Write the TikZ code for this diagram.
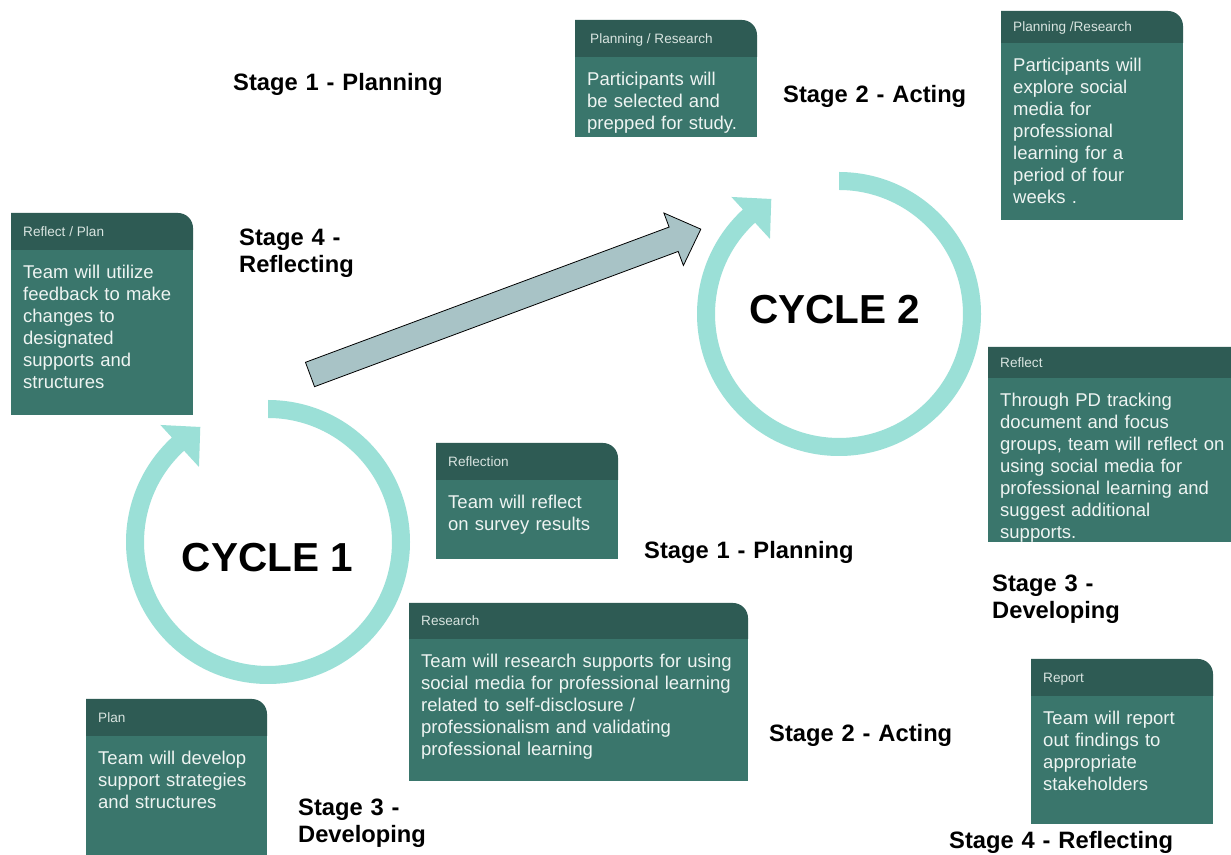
\documentclass[tikz,border=0pt]{standalone}
\usepackage{fontspec}
\setmainfont{Liberation Sans}
\usetikzlibrary{calc}

\definecolor{cardhead}{HTML}{2E5B54}
\definecolor{cardbody}{HTML}{3A766C}
\definecolor{cardtext}{HTML}{EEF4F2}
\definecolor{headtext}{HTML}{D8E4E0}
\definecolor{ringcol}{HTML}{9BE0D7}
\definecolor{bigarrow}{HTML}{A8C3C6}

\tikzset{
  headlabel/.style={anchor=base west, inner sep=0pt, text=headtext,
    font=\fontsize{13.6}{15}\selectfont},
  % text width makes the node top-aligned, so its base is the first line
  bodylabel/.style={anchor=base west, inner sep=0pt, text=cardtext, align=left,
    text width=330pt, font=\fontsize{18.5}{22}\selectfont},
  stagelabel/.style={anchor=base west, inner sep=0pt, align=left,
    text width=260pt, font=\fontsize{23.7}{27}\selectfont\bfseries},
  cyclelabel/.style={anchor=base, inner sep=0pt,
    font=\fontsize{40.5}{44}\selectfont\bfseries},
  ring/.style={fill=ringcol},
}

% card: name, left, top, right, bottom, header bottom, header text, body text
\newcommand\cardbox[8]{%
  \pgfmathsetmacro\cbx{#2+12}%
  \pgfmathsetmacro\cby{(#3+#6)/2-4.8}%
  \pgfmathsetmacro\cbt{#6-28.5}%
  \fill[cardbody] (#2,#5) rectangle (#4,#6);
  \fill[cardhead] (#2,#6) -- (#2,#3) -- ({#4-15},#3)
    arc[start angle=90, end angle=0, radius=15] -- (#4,#6) -- cycle;
  \node[headlabel] (#1-head) at (\cbx,\cby) {#7};
  \node[bodylabel] (#1-body) at (\cbx,\cbt) {#8};
}

% circular arrow around a centre coordinate
\newcommand\cyclering[1]{%
  \fill[ring] ($(#1)+(90:142)$) arc[start angle=90, end angle=-227.4, radius=142]
    -- ($(#1)+(132.6:159)$)
    -- ($(#1)+(132.6:130.5)+(42.6:28)$)
    -- ($(#1)+(132.6:102)$)
    -- ($(#1)+(132.6:124)$) arc[start angle=-227.4, end angle=90, radius=124]
    -- cycle;
}

\begin{document}
\begin{tikzpicture}[x=1pt, y=1pt]
\useasboundingbox (0,0) rectangle (1231,854);
\clip (0,0) rectangle (1231,854);
\fill[white] (0,0) rectangle (1231,854);

% the two cycles
\coordinate (c1) at (268,312);
\coordinate (c2) at (839,540);
\cyclering{c1}
\cyclering{c2}
\node[cyclelabel] (cycle1) at (267.5,282) {CYCLE 1};
\node[cyclelabel] (cycle2) at (835,530.7) {CYCLE 2};

% broad arrow leading from cycle 1 to cycle 2
\begin{scope}[shift={(310,479.5)}, rotate=20.4]
  \draw[fill=bigarrow, draw=black, line width=0.8pt, line join=miter]
    (0,-13) -- (388,-13) -- (388,-28) -- (417,0) -- (388,28) -- (388,13)
    -- (0,13) -- cycle;
\end{scope}

% cards
\cardbox{reflplan}{11}{641}{193}{439}{604}{Reflect / Plan}
  {Team will utilize\\feedback to make\\changes to\\designated\\supports and\\structures}
\cardbox{planres}{575}{834}{757}{717}{797}{\hspace{3pt}Planning / Research}
  {Participants will\\be selected and\\prepped for study.}
\cardbox{planres2}{1001}{843}{1183}{634}{811}{Planning /Research}
  {Participants will\\explore social\\media for\\professional\\learning for a\\period of four\\weeks .}
\cardbox{reflect}{988}{507}{1246}{312}{476}{Reflect}
  {Through PD tracking\\document and focus\\groups, team will reflect on\\using social media for\\professional learning and\\suggest additional\\supports.}
\cardbox{reflection}{436}{411}{618}{295}{374}{Reflection}
  {Team will reflect\\on survey results}
\cardbox{research}{409}{251}{748}{73}{215}{Research}
  {Team will research supports for using\\social media for professional learning\\related to self-disclosure /\\professionalism and validating\\professional learning}
\cardbox{plan}{86}{155}{267}{-10}{118}{Plan}
  {Team will develop\\support strategies\\and structures}
\cardbox{report}{1031}{195}{1213}{30}{158}{Report}
  {Team will report\\out findings to\\appropriate\\stakeholders}

% stage labels
\node[stagelabel] (s1a) at (233,763) {Stage 1 - Planning};
\node[stagelabel] (s2a) at (783,751) {Stage 2 - Acting};
\node[stagelabel] (s4a) at (239,608.3) {Stage 4 -\\Reflecting};
\node[stagelabel] (s1b) at (644,295) {Stage 1 - Planning};
\node[stagelabel] (s3b) at (992,262) {Stage 3 -\\Developing};
\node[stagelabel] (s2b) at (769,112) {Stage 2 - Acting};
\node[stagelabel] (s3a) at (298,39) {Stage 3 -\\Developing};
\node[stagelabel] (s4b) at (949,6) {Stage 4 - Reflecting};
\end{tikzpicture}
\end{document}
